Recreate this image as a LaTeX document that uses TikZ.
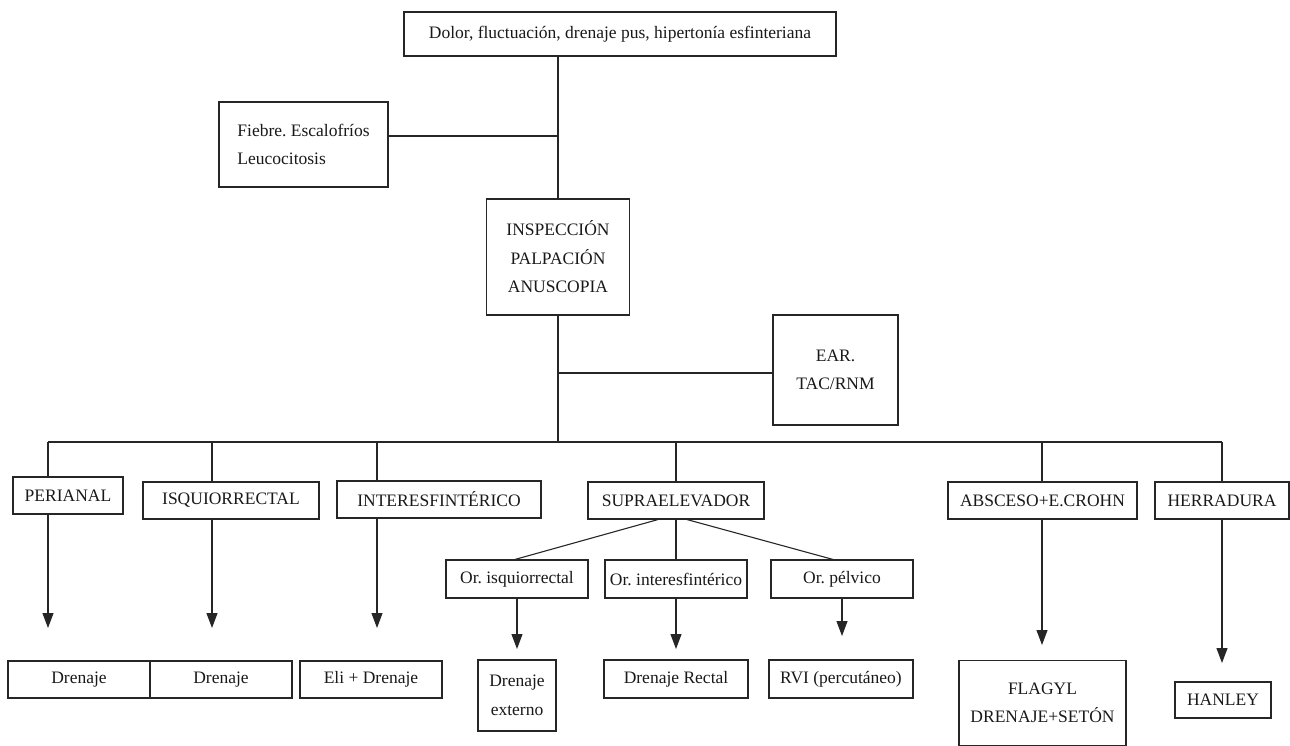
\documentclass[tikz,border=0pt]{standalone}
\usepackage{fontspec}
\setmainfont{Liberation Serif}
\usetikzlibrary{arrows.meta}
\frenchspacing
\begin{document}
\begin{tikzpicture}[x=1pt,y=-1pt,
  line width=1.1pt, draw=black!85,
  box/.style={draw=black!85, rectangle, inner sep=0pt, align=center, text=black!90, font=\fontsize{17.5}{28.5}\selectfont},
  arr/.style={-{Triangle[length=15pt,width=11pt]}}]
\useasboundingbox (0,0) rectangle (1290,746);
% top level
\node[box, minimum width=432, minimum height=44] (top) at (620,34) {Dolor, fluctuación, drenaje pus, hipertonía esfinteriana};
\node[box, minimum width=169, minimum height=85, align=left] (fie) at (303.5,144.5) {Fiebre. Escalofríos\\Leucocitosis};
\node[box, minimum width=143, minimum height=116] (insp) at (558,257) {INSPECCIÓN\\PALPACIÓN\\ANUSCOPIA};
\node[box, minimum width=125, minimum height=110] (ear) at (835.5,370) {EAR.\\TAC/RNM};
% level 2
\node[box, minimum width=110, minimum height=37] (per) at (68,495.5) {PERIANAL};
\node[box, minimum width=176, minimum height=37] (isq) at (231,500.5) {ISQUIORRECTAL};
\node[box, minimum width=204, minimum height=37] (int) at (439,499.5) {INTERESFINTÉRICO};
\node[box, minimum width=176, minimum height=37] (sup) at (676,500.5) {SUPRAELEVADOR};
\node[box, minimum width=189, minimum height=37] (abs) at (1042.5,500.5) {ABSCESO+E.CROHN};
\node[box, minimum width=134, minimum height=37] (her) at (1222,500.5) {HERRADURA};
% level 3
\node[box, minimum width=142, minimum height=38] (ois) at (517,579) {Or. isquiorrectal};
\node[box, minimum width=142, minimum height=38] (oin) at (676,579) {Or. interesfintérico};
\node[box, minimum width=142, minimum height=38] (opl) at (842,579) {Or. pélvico};
% bottom
\node[box, minimum width=142, minimum height=37] (dr1) at (79,679.5) {Drenaje};
\node[box, minimum width=142, minimum height=37] (dr2) at (221,679.5) {Drenaje};
\node[box, minimum width=142, minimum height=37] (eli) at (371,679.5) {Eli + Drenaje};
\node[box, minimum width=78, minimum height=71] (dex) at (517,695.5) {Drenaje\\externo};
\node[box, minimum width=144, minimum height=38] (dre) at (676,679) {Drenaje Rectal};
\node[box, minimum width=144, minimum height=38] (rvi) at (841,679) {RVI (percutáneo)};
\node[box, minimum width=167, minimum height=85] (fla) at (1042.5,703) {FLAGYL\\DRENAJE+SETÓN};
\node[box, minimum width=96, minimum height=36] (han) at (1223,700) {HANLEY};
% bus coordinates
\coordinate (b1) at (48,442);
\coordinate (b2) at (212,442);
\coordinate (b3) at (377,442);
\coordinate (b4) at (676,442);
\coordinate (b5) at (1042,442);
\coordinate (b6) at (1222,442);
\coordinate (t1) at (48,628);
\coordinate (t2) at (212,628);
\coordinate (t3) at (377,628);
\coordinate (t4) at (517,649);
\coordinate (t5) at (676,649);
\coordinate (t6) at (842,636);
\coordinate (t7) at (1042,645);
\coordinate (t8) at (1222,663);
% connectors
\draw (top.south -| insp.north) -- (insp.north);
\draw ([yshift=8.5pt]fie.east) -- ([yshift=8.5pt]fie.east -| insp.north);
\draw (insp.south) -- (insp.south |- b1);
\draw ([yshift=-3pt]ear.west) -- ([yshift=-3pt]ear.west -| insp.south);
\draw (b1) -- (b6);
\draw (b1) -- (b1 |- per.north);
\draw (b2) -- (b2 |- isq.north);
\draw (b3) -- (b3 |- int.north);
\draw (b4) -- (sup.north);
\draw (b5) -- (b5 |- abs.north);
\draw (b6) -- (her.north);
\draw[arr] (t1 |- per.south) -- (t1);
\draw[arr] (t2 |- isq.south) -- (t2);
\draw[arr] (t3 |- int.south) -- (t3);
\draw ([xshift=-18pt]sup.south) -- ([xshift=-2pt]ois.north);
\draw (sup.south) -- (oin.north);
\draw ([xshift=11pt]sup.south) -- ([xshift=-9pt]opl.north);
\draw[arr] (ois.south) -- (t4);
\draw[arr] (oin.south) -- (t5);
\draw[arr] (opl.south) -- (t6);
\draw[arr] (t7 |- abs.south) -- (t7);
\draw[arr] (her.south) -- (t8);
\end{tikzpicture}
\end{document}
